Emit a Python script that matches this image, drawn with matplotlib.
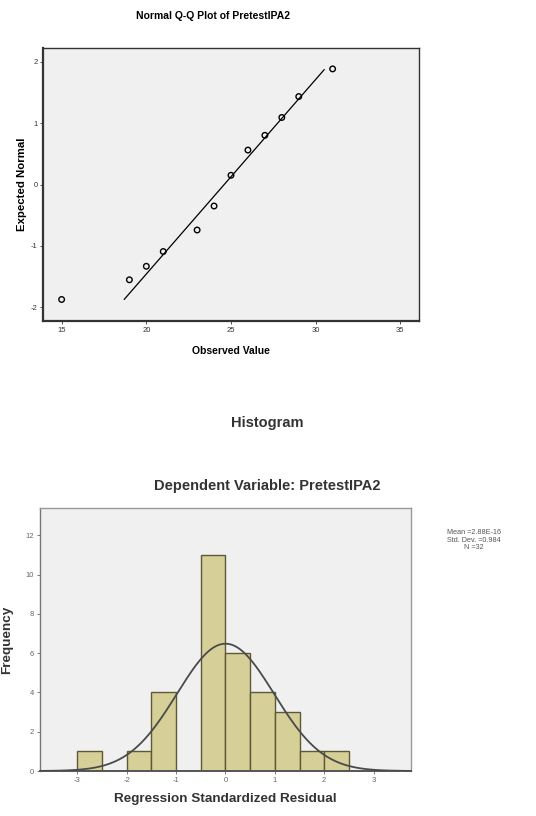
import numpy as np
import matplotlib
matplotlib.use("Agg")
import matplotlib.pyplot as plt

plt.rcParams['font.family'] = ['Liberation Sans', 'DejaVu Sans']
plt.rcParams['axes.unicode_minus'] = False

# Q-Q plot data
observed = [15, 19, 20, 21, 23, 24, 25, 26, 27, 28, 29, 31]
expected = [-1.87, -1.55, -1.33, -1.09, -0.74, -0.35, 0.15, 0.56, 0.80, 1.09, 1.43, 1.88]
qq_mean = 24.6
qq_sd = 3.16
qq_line_x = [18.7, 30.5]

# histogram data
bin_edges = [-3.0, -2.5, -2.0, -1.5, -1.0, -0.5, 0.0, 0.5, 1.0, 1.5, 2.0, 2.5]
counts = [1, 0, 1, 4, 0, 11, 6, 4, 3, 1, 1]
res_mean = 0.0
res_sd = 0.984
n_obs = 32

W, H = 536, 816
fig = plt.figure(figsize=(W / 100, H / 100), dpi=100)
fig.patch.set_facecolor('white')

def px_axes(l, t, r, b):
    return fig.add_axes([l / W, 1 - b / H, (r - l) / W, (b - t) / H])

# ---------- Q-Q plot ----------
ax1 = px_axes(43, 48, 419, 321)
ax1.set_facecolor('#f0f0f0')
lx = np.array(qq_line_x)
ax1.plot(lx, (lx - qq_mean) / qq_sd, color='black', lw=0.9)
ax1.scatter(observed, expected, s=16, facecolors='none', edgecolors='black', linewidths=1.0, zorder=3)
ax1.set_xlim(13.9, 36.1)
ax1.set_ylim(-2.22, 2.22)
ax1.set_xticks([15, 20, 25, 30, 35])
ax1.set_yticks([-2, -1, 0, 1, 2])
ax1.tick_params(labelsize=5.5, colors='#333333', length=2.5, width=0.6, pad=1.5)
for sp in ax1.spines.values():
    sp.set_color('#333333')
    sp.set_linewidth(1.0)
ax1.spines['left'].set_linewidth(1.6)
ax1.spines['bottom'].set_linewidth(1.6)
ax1.set_xlabel('Observed Value', fontsize=7.5, fontweight='bold', labelpad=9)
ax1.set_ylabel('Expected Normal', fontsize=8.2, fontweight='bold', labelpad=3)
fig.text(213 / W, 1 - 16 / H, 'Normal Q-Q Plot of PretestIPA2', ha='center', va='center',
         fontsize=7.5, fontweight='bold')

# ---------- histogram ----------
ax2 = px_axes(40, 508, 411, 771)
ax2.set_facecolor('#f0f0f0')
edges = np.array(bin_edges)
ax2.bar(edges[:-1], counts, width=np.diff(edges), align='edge', color='#d6cf98',
        edgecolor='#5e5836', linewidth=1.0, zorder=2)
xs = np.linspace(-3.76, 3.76, 300)
bw = edges[1] - edges[0]
curve = n_obs * bw * np.exp(-0.5 * ((xs - res_mean) / res_sd) ** 2) / (res_sd * np.sqrt(2 * np.pi))
ax2.plot(xs, curve, color='#4a4a4a', lw=1.3, zorder=3)
ax2.set_xlim(-3.76, 3.76)
ax2.set_ylim(0, 13.4)
ax2.set_xticks([-3, -2, -1, 0, 1, 2, 3])
ax2.set_yticks([0, 2, 4, 6, 8, 10, 12])
ax2.tick_params(labelsize=5.5, colors='#666666', length=2.5, width=0.6, pad=2)
for sp in ax2.spines.values():
    sp.set_color('#999999')
    sp.set_linewidth(1.0)
ax2.spines['bottom'].set_color('#555555')
ax2.spines['bottom'].set_linewidth(1.4)
ax2.spines['left'].set_color('#777777')
ax2.set_xlabel('Regression Standardized Residual', fontsize=9.7, fontweight='bold',
               color='#333333', labelpad=6)
ax2.set_ylabel('Frequency', fontsize=9.7, fontweight='bold', color='#333333', labelpad=9)
fig.text(267 / W, 1 - 423 / H, 'Histogram', ha='center', va='center',
         fontsize=10.5, fontweight='bold', color='#333333')
fig.text(267 / W, 1 - 486 / H, 'Dependent Variable: PretestIPA2', ha='center', va='center',
         fontsize=10.5, fontweight='bold', color='#333333')
fig.text(474 / W, 1 - 540 / H, 'Mean =2.88E-16\nStd. Dev. =0.984\nN =%d' % n_obs,
         ha='center', va='center', fontsize=5.2, color='#555555', linespacing=1.15)

fig.savefig('out.png', dpi=100)
